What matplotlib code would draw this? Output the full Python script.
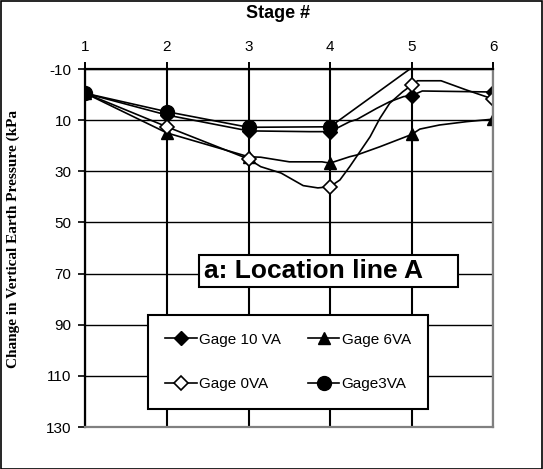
import matplotlib
matplotlib.use("Agg")
import matplotlib.pyplot as plt
from matplotlib.patches import Rectangle

# ---- data -------------------------------------------------------------
stages = [1, 2, 3, 4, 5, 6]
stage_labels = ["1", "2", "3", "4", "5", "6"]
y_ticks = [-10, 10, 30, 50, 70, 90, 110, 130]

# readings along each gauge trace (stage position, kPa)
gage10_x = [1, 2, 3, 3.75, 4, 4.24, 4.33, 4.57, 4.73, 4.9, 5, 5.13, 6]
gage10_y = [-0.5, 8.0, 14.2, 14.5, 14.5, 10.6, 9.7, 5.4, 2.8, 0.8, 0.4, -1.4, -1.0]

gage6_x = [1, 2, 3, 3.15, 3.5, 3.9, 4, 4.24, 4.33, 4.61, 5, 5.1, 5.34, 5.67, 6]
gage6_y = [-0.5, 15.0, 24.3, 24.5, 26.3, 26.3, 26.8, 24.3, 23.6, 20.4, 15.6, 13.5,
           11.9, 10.6, 9.6]

gage0_x = [1, 2, 3, 3.15, 3.4, 3.67, 3.85, 4, 4.12, 4.24, 4.49, 4.61, 4.73, 4.89,
           5, 5.07, 5.36, 5.67, 6]
gage0_y = [-0.5, 12.6, 25.2, 28.2, 30.7, 35.6, 36.5, 36.0, 33.4, 28.2, 16.5, 9.3,
           3.4, -1.1, -3.7, -5.4, -5.4, -1.8, 1.8]

gage3_x = [1, 2, 3, 4, 5]
gage3_y = [-0.5, 6.7, 12.8, 12.6, -10.5]

Y_MIN, Y_MAX = -10, 130

# ---- figure -----------------------------------------------------------
W, H = 543, 469
fig = plt.figure(figsize=(W / 100, H / 100), dpi=100)
fig.patch.set_facecolor("white")

def fx(px):
    return px / W

def fy(py):
    return 1 - py / H

left, right, top, bottom = 85.3, 493.3, 69.0, 427.0
ax = fig.add_axes([fx(left), fy(bottom), fx(right - left), (bottom - top) / H])
ax.set_xlim(1, 6)
ax.set_ylim(Y_MAX, Y_MIN)

sans = "Liberation Sans"

ax.set_xticks(stages)
ax.set_xticklabels(stage_labels, fontsize=11, family=sans)
ax.set_yticks(y_ticks)
ax.set_yticklabels([str(v) for v in y_ticks], fontsize=11, family=sans)
ax.xaxis.tick_top()
ax.tick_params(axis="x", direction="out", length=5, width=1.4, pad=6, colors="black")
ax.tick_params(axis="y", direction="out", length=5, width=1.2, pad=5, colors="black")

# grid
ax.xaxis.grid(True, color="black", linewidth=1.5)
ax.yaxis.grid(True, color="black", linewidth=1.0)
ax.set_axisbelow(True)

for side, col in (("left", "black"), ("top", "black"), ("right", "#808080"), ("bottom", "#808080")):
    ax.spines[side].set_color(col)
    ax.spines[side].set_linewidth(1.6)

def stage_marks(xs, ys):
    return [i for i, (x, y) in enumerate(zip(xs, ys))
            if float(x).is_integer() and Y_MIN < y < Y_MAX]

line_kw = dict(color="black", linewidth=1.2, clip_on=True)

h10, = ax.plot(gage10_x, gage10_y, marker="D", markersize=7, markerfacecolor="black",
               markeredgecolor="black", markevery=stage_marks(gage10_x, gage10_y),
               label="Gage 10 VA", **line_kw)
h6, = ax.plot(gage6_x, gage6_y, marker="^", markersize=9, markerfacecolor="black",
              markeredgecolor="black", markevery=stage_marks(gage6_x, gage6_y),
              label="Gage 6VA", **line_kw)
h0, = ax.plot(gage0_x, gage0_y, marker="D", markersize=7, markerfacecolor="white",
              markeredgecolor="black", markeredgewidth=1.2,
              markevery=stage_marks(gage0_x, gage0_y), label="Gage 0VA", **line_kw)
h3, = ax.plot(gage3_x, gage3_y, marker="o", markersize=10, markerfacecolor="black",
              markeredgecolor="black", markevery=stage_marks(gage3_x, gage3_y),
              label="Gage3VA", **line_kw)

# axis titles
fig.text(fx(278), fy(14), "Stage #", ha="center", va="center",
         fontsize=13, fontweight="bold", family=sans)
fig.text(fx(13), fy(239), "Change in Vertical Earth Pressure (kPa", rotation=90,
         ha="center", va="center", fontsize=11, fontweight="bold",
         family="Liberation Serif")

# caption box
box = Rectangle((fx(199), fy(287)), fx(458 - 199), (287 - 255) / H,
                transform=fig.transFigure, facecolor="white", edgecolor="black",
                linewidth=1.5, zorder=5)
fig.patches.append(box)
fig.text(fx(204), fy(271.5), "a: Location line A", ha="left", va="center",
         fontsize=19, fontweight="bold", family=sans, zorder=6)

# legend
leg = fig.legend(handles=[h10, h0, h6, h3], ncol=2, loc="upper left",
                 bbox_to_anchor=(fx(147.7), fy(315)), bbox_transform=fig.transFigure,
                 prop={"family": sans, "size": 11}, frameon=True, fancybox=False,
                 framealpha=1, edgecolor="black", borderpad=1.15, labelspacing=2.0,
                 handlelength=2.07, handletextpad=0.15, columnspacing=1.75,
                 borderaxespad=0, numpoints=1)
leg.get_frame().set_linewidth(1.5)
leg.set_zorder(7)

# outer frame
fig.patches.append(Rectangle((0.5 / W, 0.5 / H), 1 - 1.5 / W, 1 - 1.5 / H,
                             transform=fig.transFigure, fill=False,
                             edgecolor="black", linewidth=1.2, zorder=10))

fig.savefig("out.png", dpi=100)
